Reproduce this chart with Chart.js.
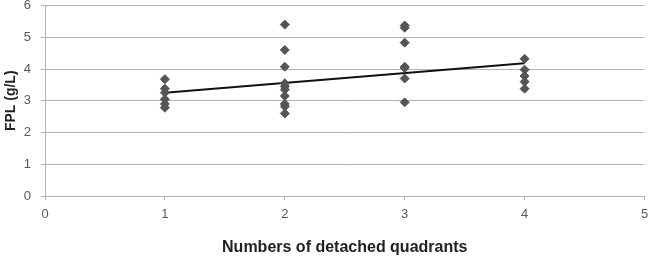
<!DOCTYPE html>
<html>
<head>
<meta charset="utf-8">
<script src="https://cdn.jsdelivr.net/npm/chart.js@4"></script>
<style>
  html, body { margin: 0; padding: 0; background: #fff; }
  #wrap { width: 650px; height: 258px; }
</style>
</head>
<body>
<div id="wrap"><canvas id="fplChart"></canvas></div>
<script>
// values
const quadrants1 = [3.68, 3.38, 3.25, 3.05, 2.9, 2.78];
const quadrants2 = [5.4, 4.6, 4.07, 3.55, 3.45, 3.35, 3.15, 2.9, 2.82, 2.6];
const quadrants3 = [5.37, 5.3, 4.83, 4.07, 4.03, 3.7, 2.95];
const quadrants4 = [4.32, 3.98, 3.78, 3.6, 3.38];
const trendX = [1, 4];
const trendY = [3.25, 4.18];
const xTicks = [0, 1, 2, 3, 4, 5];
const yTicks = [0, 1, 2, 3, 4, 5, 6];

const groups = [quadrants1, quadrants2, quadrants3, quadrants4];
let points = [];
groups.forEach((vals, i) => {
    vals.forEach(v => {
        points.push({ x: i + 1, y: v });
    });
});

const trend = trendX.map((x, i) => ({ x: x, y: trendY[i] }));

const tickFont = { family: 'Liberation Sans, Arial, sans-serif', size: 13 };

const ctx = document.getElementById('fplChart').getContext('2d');
const chart = new Chart(ctx, {
    type: 'scatter',
    data: {
        datasets: [
            {
                label: 'FPL',
                data: points,
                pointStyle: 'rectRot',
                pointRadius: 4.5,
                pointBackgroundColor: '#555555',
                pointBorderColor: '#555555',
                pointBorderWidth: 1,
                showLine: false
            },
            {
                label: 'Trend',
                data: trend,
                showLine: true,
                borderColor: '#111111',
                borderWidth: 2,
                pointRadius: 0,
                fill: false
            }
        ]
    },
    options: {
        responsive: true,
        maintainAspectRatio: false,
        animation: false,
        layout: { padding: { top: 4, right: 2, left: 0, bottom: 0 } },
        plugins: {
            legend: { display: false },
            tooltip: { enabled: false }
        },
        scales: {
            x: {
                type: 'linear',
                min: 0,
                max: 5,
                afterBuildTicks: axis => { axis.ticks = xTicks.map(v => ({ value: v })); },
                afterFit: axis => {
                    axis.height = 62;
                    axis.paddingLeft = 0;
                    axis.paddingRight = 0;
                },
                ticks: { color: '#595959', font: tickFont, padding: 7 },
                grid: {
                    drawOnChartArea: false,
                    drawTicks: true,
                    tickLength: 4,
                    color: '#b3b3b3'
                },
                border: { color: '#b3b3b3' },
                title: {
                    display: true,
                    text: 'Numbers of detached quadrants',
                    color: '#222222',
                    font: { family: 'Liberation Sans, Arial, sans-serif', size: 16, weight: 'bold' },
                    padding: { top: 17, bottom: 1 }
                }
            },
            y: {
                min: 0,
                max: 6,
                afterBuildTicks: axis => { axis.ticks = yTicks.map(v => ({ value: v })); },
                afterFit: axis => {
                    axis.width = 45;
                    axis.paddingTop = 0;
                    axis.paddingBottom = 0;
                },
                ticks: { color: '#595959', font: tickFont, padding: 10 },
                grid: {
                    color: '#b3b3b3',
                    tickLength: 4
                },
                border: { color: '#b3b3b3' },
                title: {
                    display: true,
                    text: 'FPL (g/L)',
                    color: '#222222',
                    font: { family: 'Liberation Sans, Arial, sans-serif', size: 14, weight: 'bold' },
                    padding: { top: 3, bottom: 6 }
                }
            }
        }
    }
});
</script>
</body>
</html>
